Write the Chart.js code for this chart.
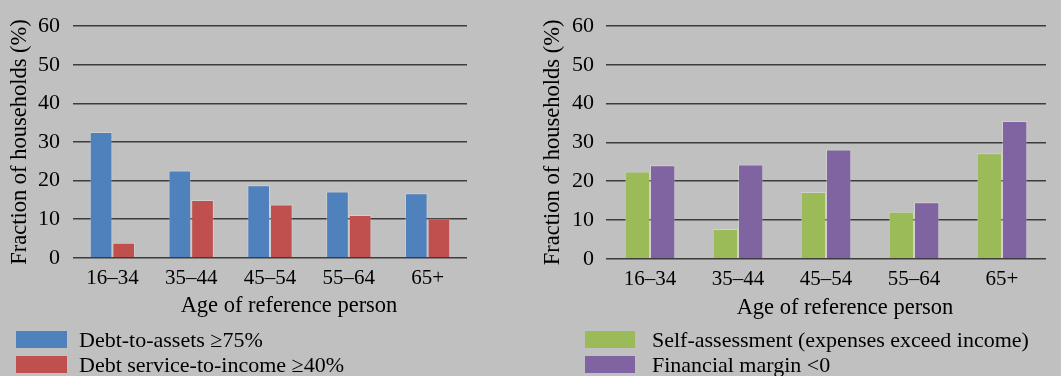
<!DOCTYPE html>
<html>
<head>
<meta charset="utf-8">
<script src="https://cdn.jsdelivr.net/npm/chart.js@4"></script>
<style>
  html, body { margin: 0; padding: 0; background: #c0c0c0; }
  body { width: 1061px; height: 376px; position: relative; overflow: hidden; font-family: "Liberation Serif", "DejaVu Serif", serif; }
  .wrap { position: absolute; top: 0; }
  .legend { position: absolute; left: 0; top: 0; font-size: 22px; color: #000; }
  .legend .box { position: absolute; height: 17px; }
  .legend .txt { position: absolute; line-height: 24px; white-space: nowrap; }
</style>
</head>
<body>
<div class="wrap" id="w1" style="left:0;width:480px;height:331px;"><canvas id="c1"></canvas></div>
<div class="wrap" id="w2" style="left:530px;width:531px;height:332px;"><canvas id="c2"></canvas></div>
<div class="legend" id="leg1"></div>
<div class="legend" id="leg2"></div>
<script>
const categories = ["16–34", "35–44", "45–54", "55–64", "65+"];
const yTitle = "Fraction of households (%)";
const xTitle = "Age of reference person";

const leftSeriesNames = ["Debt-to-assets ≥75%", "Debt service-to-income ≥40%"];
const debtToAssets = [32.6, 22.6, 18.8, 17.2, 16.7];
const debtServiceToIncome = [3.9, 15.0, 13.8, 11.1, 10.2];

const rightSeriesNames = ["Self-assessment (expenses exceed income)", "Financial margin <0"];
const selfAssessment = [22.5, 7.7, 17.2, 12.1, 27.2];
const financialMargin = [24.1, 24.3, 28.2, 14.6, 35.5];

const yTicks = [0, 10, 20, 30, 40, 50, 60];

const colors = { blue: "#4f81bd", red: "#c0504d", green: "#9bbb59", purple: "#8064a2" };
const FONT = "'Liberation Serif', 'DejaVu Serif', serif";
const XTICK_SIZE = 21;
const YTICK_SIZE = 22;
const TITLE_SIZE = 22.5;
const TITLE_BOX = 32;

const xTitlePlugin = {
  id: "xTitlePlugin",
  afterDraw(chart, args, opts) {
    const ctx = chart.ctx;
    const area = chart.chartArea;
    ctx.save();
    ctx.font = TITLE_SIZE + "px " + FONT;
    ctx.fillStyle = "#000";
    ctx.textAlign = "center";
    ctx.textBaseline = "middle";
    ctx.fillText(opts.text, (area.left + area.right) / 2 + opts.shift, area.bottom + opts.dy);
    ctx.restore();
  }
};

function makeChart(id, names, series, cols, pad, dy, titlePad, yTickPad) {
  const datasets = series.map((d, i) => ({
    label: names[i],
    data: d,
    backgroundColor: cols[i],
    borderColor: "rgba(255,255,255,0.25)",
    borderWidth: 1,
    categoryPercentage: 0.575,
    barPercentage: 1.0
  }));
  return new Chart(document.getElementById(id), {
    type: "bar",
    data: { labels: categories, datasets },
    plugins: [xTitlePlugin],
    options: {
      responsive: true,
      maintainAspectRatio: false,
      animation: false,
      layout: { padding: pad },
      plugins: {
        legend: { display: false },
        tooltip: { enabled: false },
        xTitlePlugin: { text: xTitle, shift: 19, dy: dy }
      },
      scales: {
        x: {
          grid: { display: false, drawTicks: false },
          border: { display: false },
          ticks: { color: "#000", font: { family: FONT, size: XTICK_SIZE }, padding: 8, maxRotation: 0 },
          title: { display: false }
        },
        y: {
          min: 0, max: 60,
          afterBuildTicks: (s) => { s.ticks = yTicks.map(v => ({ value: v })); },
          grid: { color: "#3c3c3c", lineWidth: 1.5, drawTicks: false },
          border: { display: false },
          ticks: { color: "#000", font: { family: FONT, size: YTICK_SIZE }, padding: yTickPad },
          title: { display: true, text: yTitle, color: "#000", font: { family: FONT, size: TITLE_SIZE }, padding: titlePad }
        }
      }
    }
  });
}

makeChart("c1", leftSeriesNames, [debtToAssets, debtServiceToIncome], [colors.blue, colors.red],
  { left: 6, right: 13, top: 21, bottom: TITLE_BOX }, 48, { top: 0.5, bottom: -8.5 }, 13);
makeChart("c2", rightSeriesNames, [selfAssessment, financialMargin], [colors.green, colors.purple],
  { left: 9, right: 15, top: 26, bottom: TITLE_BOX }, 49, { top: 0.5, bottom: -6.5 }, 12);

function makeLegend(id, names, cols, boxX, boxW, textX, top) {
  const el = document.getElementById(id);
  names.forEach((n, i) => {
    const y = top + i * 25;
    const b = document.createElement("div");
    b.className = "box";
    b.style.left = boxX + "px"; b.style.top = y + "px"; b.style.width = boxW + "px";
    b.style.background = cols[i];
    el.appendChild(b);
    const t = document.createElement("div");
    t.className = "txt";
    t.style.left = textX + "px"; t.style.top = (y + 8.5 - 12) + "px";
    t.textContent = n;
    el.appendChild(t);
  });
}
makeLegend("leg1", leftSeriesNames, [colors.blue, colors.red], 16, 51, 79, 331);
makeLegend("leg2", rightSeriesNames, [colors.green, colors.purple], 585, 50, 652, 331);
</script>
</body>
</html>
